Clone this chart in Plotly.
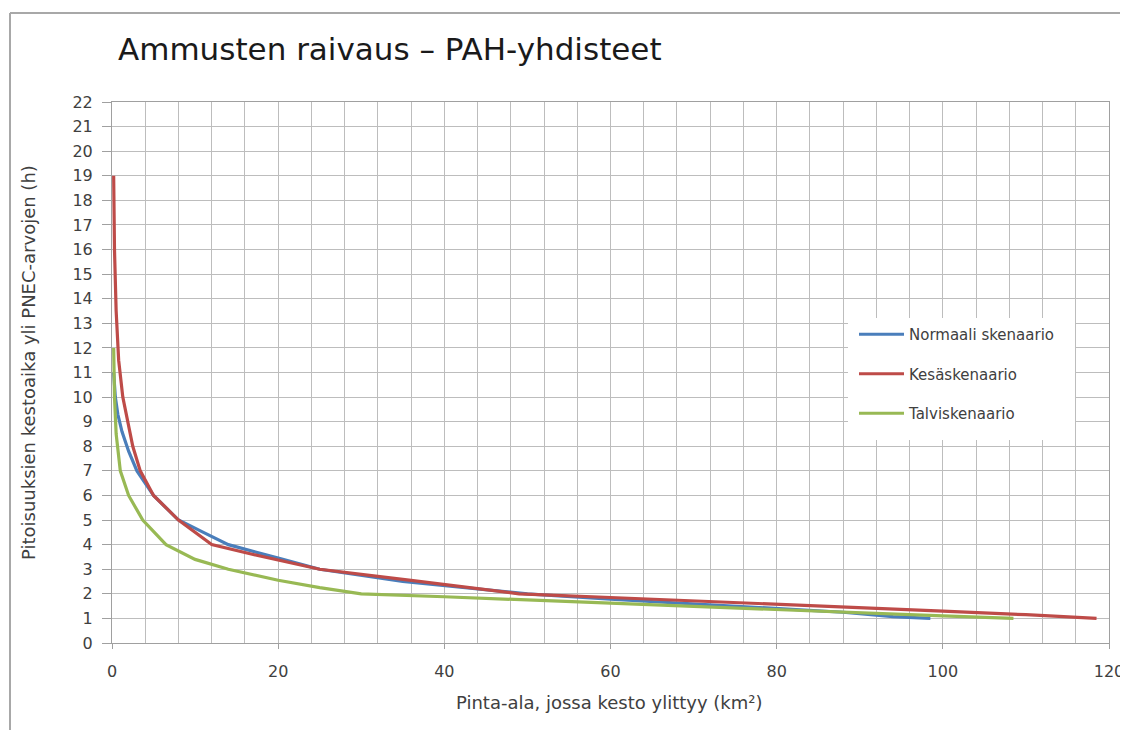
import plotly.graph_objects as go

# ---- data ----
series_names = ["Normaali skenaario", "Kesäskenaario", "Talviskenaario"]

x_normaali = [0.2, 0.4, 0.7, 1.2, 2.0, 3.0, 5.0, 8.0, 11.0, 14.0, 20.0, 25.0, 35.0, 50.0, 60.0, 75.0, 88.0, 94.0, 98.5]
y_normaali = [11.0, 10.0, 9.3, 8.6, 7.8, 7.0, 6.0, 5.0, 4.5, 4.0, 3.45, 3.0, 2.5, 2.0, 1.78, 1.5, 1.25, 1.07, 1.0]

x_kesa = [0.2, 0.3, 0.5, 0.8, 1.3, 2.0, 2.5, 3.4, 5.0, 8.0, 12.0, 17.0, 25.0, 36.0, 49.0, 60.0, 75.0, 89.0, 100.0, 110.0, 118.5]
y_kesa = [19.0, 16.0, 13.5, 11.5, 10.0, 8.8, 8.0, 7.0, 6.0, 5.0, 4.0, 3.6, 3.0, 2.55, 2.0, 1.85, 1.65, 1.45, 1.3, 1.15, 1.0]

x_talvi = [0.2, 0.3, 0.5, 1.0, 2.0, 3.7, 6.5, 10.0, 14.0, 20.0, 25.0, 30.0, 40.0, 50.0, 65.0, 80.0, 90.0, 100.0, 108.5]
y_talvi = [12.0, 10.0, 8.5, 7.0, 6.0, 5.0, 4.0, 3.4, 3.0, 2.55, 2.25, 2.0, 1.88, 1.75, 1.55, 1.35, 1.2, 1.1, 1.0]

colors = ["#4a7ebb", "#be4b48", "#98b954"]

x_ticks = [0, 20, 40, 60, 80, 100, 120]
y_ticks = list(range(0, 23))

title_text = "Ammusten raivaus – PAH-yhdisteet"
x_title = "Pinta-ala, jossa kesto ylittyy (km²)"
y_title = "Pitoisuuksien kestoaika yli PNEC-arvojen (h)"

# ---- layout geometry (pixels; page has an 8px body margin) ----
OFF = 8
W, H = 1120, 722
# plot area in page px: x 112..1109, y 102..643
L = 112 - OFF
T = 102 - OFF
R = W - (1109 - OFF)
B = H - (643 - OFF)
pw, ph = W - L - R, H - T - B


def px(x_page):
    return (x_page - OFF - L) / pw


def py(y_page):
    return (H - B - (y_page - OFF)) / ph


FONT = "DejaVu Sans"
GRID = "#bdbdbd"
TXT = "#404040"

fig = go.Figure()
for name, xs, ys, c in zip(series_names, [x_normaali, x_kesa, x_talvi], [y_normaali, y_kesa, y_talvi], colors):
    fig.add_trace(go.Scatter(x=xs, y=ys, mode="lines", name=name,
                             line=dict(color=c, width=3.2), legendgroup=name))

fig.update_layout(
    width=W, height=H,
    margin=dict(l=L, r=R, t=T, b=B, pad=0, autoexpand=False),
    paper_bgcolor="white", plot_bgcolor="white",
    font=dict(family=FONT, color=TXT),
    showlegend=True,
    legend=dict(x=px(854), y=py(318), xanchor="left", yanchor="top",
                bgcolor="rgba(0,0,0,0)", borderwidth=0,
                font=dict(family=FONT, size=15, color=TXT),
                itemwidth=45,
                tracegroupgap=17, traceorder="grouped"),
    xaxis=dict(range=[0, 120], tickvals=x_ticks, ticks="outside", ticklen=5,
               tickcolor="#a0a0a0", showgrid=True, gridcolor=GRID, gridwidth=1,
               minor=dict(dtick=4, tick0=0, showgrid=True, gridcolor=GRID, gridwidth=1),
               showline=True, linecolor="#a0a0a0", linewidth=1, mirror=True,
               zeroline=False, tickfont=dict(family=FONT, size=16, color=TXT),
               ticklabelstandoff=9, ticklabeloverflow="allow", automargin=False,
               fixedrange=True),
    yaxis=dict(range=[0, 22], tickvals=y_ticks, ticks="outside", ticklen=9,
               tickcolor="#a0a0a0", showgrid=True, gridcolor=GRID, gridwidth=1,
               showline=True, linecolor="#a0a0a0", linewidth=1, mirror=True,
               zeroline=False, tickfont=dict(family=FONT, size=16, color=TXT),
               ticklabelstandoff=6, automargin=False, fixedrange=True),
)

# white legend box
fig.add_shape(type="rect", xref="paper", yref="paper",
              x0=px(848), x1=px(1075), y0=py(440), y1=py(318),
              fillcolor="white", line=dict(width=0), layer="above")

# outer frame (gray lines, extending past right/bottom edges)
fig.add_shape(type="line", xref="paper", yref="paper",
              x0=px(10), x1=px(1150), y0=py(13), y1=py(13),
              line=dict(color="#a8a8a8", width=2))
fig.add_shape(type="line", xref="paper", yref="paper",
              x0=px(10), x1=px(10), y0=py(13), y1=py(760),
              line=dict(color="#a8a8a8", width=2))

# title and axis titles
fig.add_annotation(text=title_text, xref="paper", yref="paper",
                   x=px(116), y=py(49), xanchor="left", yanchor="middle",
                   showarrow=False, font=dict(family=FONT, size=31, color="#1a1a1a"))
fig.add_annotation(text=x_title, xref="paper", yref="paper",
                   x=px(609), y=py(702), xanchor="center", yanchor="middle",
                   showarrow=False, font=dict(family=FONT, size=18, color=TXT))
fig.add_annotation(text=y_title, xref="paper", yref="paper",
                   x=px(28), y=py(363), xanchor="center", yanchor="middle",
                   textangle=-90, showarrow=False,
                   font=dict(family=FONT, size=18, color=TXT))

fig.write_html("out.html", config={"displayModeBar": False})
